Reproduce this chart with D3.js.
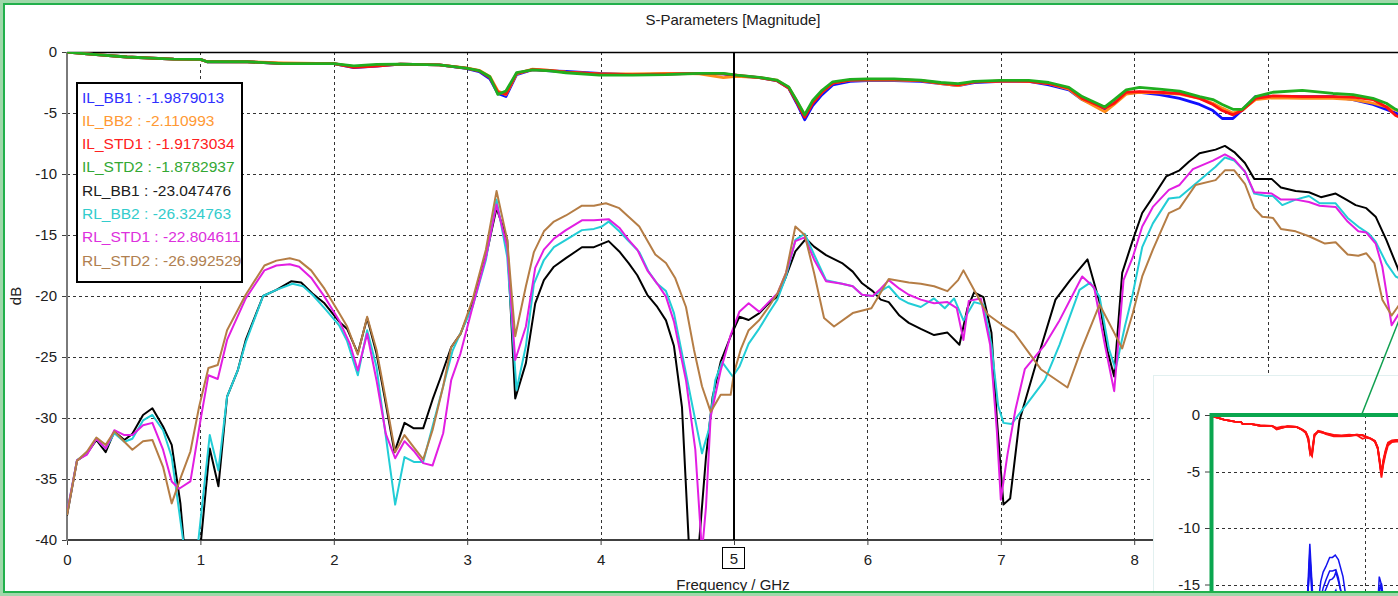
<!DOCTYPE html>
<html>
<head>
<meta charset="utf-8">
<script src="https://cdn.jsdelivr.net/npm/d3@7"></script>
<style>
  body { margin: 0; background: #fff; overflow: hidden; }
  text { font-family: "Liberation Sans", Arial, sans-serif; font-size: 15px; fill: #202020; }
</style>
</head>
<body>
<div id="chart"></div>
<script>
// x / y tick values
const freqTicks = [0, 1, 2, 3, 4, 5, 6, 7, 8];
const dbTicks = [0, -5, -10, -15, -20, -25, -30, -35, -40];
const insetTicks = [0, -5, -10, -15];

// legend text
const seriesNames = ["IL_BB1", "IL_BB2", "IL_STD1", "IL_STD2", "RL_BB1", "RL_BB2", "RL_STD1", "RL_STD2"];
const markerValues = ["-1.9879013", "-2.110993", "-1.9173034", "-1.8782937", "-23.047476", "-26.324763", "-22.804611", "-26.992529"];
const seriesColors = ["#1010ff", "#ff8c1a", "#ff1010", "#1fae1f", "#000000", "#22cdd6", "#e21ee2", "#b57d45"];
const legendColors = ["#3030ff", "#ff9933", "#ff2020", "#33a833", "#202020", "#33cccc", "#dd30dd", "#b08050"];

// insertion loss, shared frequency points (GHz)
const ilFreq = [0, 0.15, 0.45, 0.8, 1.0, 1.05, 1.35, 1.62, 2.0, 2.15, 2.32, 2.5, 2.79, 2.99, 3.09, 3.17, 3.23, 3.29, 3.37, 3.49,
  3.62, 3.74, 3.99, 4.24, 4.49, 4.74, 4.92, 5.02, 5.19, 5.32, 5.41, 5.47, 5.53, 5.59, 5.66, 5.74, 5.87, 6.0, 6.2, 6.4,
  6.55, 6.68, 6.8, 7.0, 7.21, 7.36, 7.51, 7.61, 7.78, 7.85, 7.94, 8.04, 8.19, 8.34, 8.49, 8.59, 8.66, 8.74, 8.81, 8.91,
  9.04, 9.26, 9.49, 9.64, 9.79, 9.89, 9.96, 10.0];
const ilBB1 = [0, -0.16, -0.41, -0.58, -0.6, -0.8, -0.8, -0.96, -0.96, -1.28, -1.15, -1.0, -1.06, -1.35, -1.6, -2.2, -3.4, -3.65, -1.85, -1.45,
  -1.55, -1.6, -1.75, -1.85, -1.8, -1.75, -1.8, -1.95, -2.1, -2.35, -2.95, -4.2, -5.55, -4.4, -3.5, -2.7, -2.4, -2.35, -2.35, -2.4,
  -2.6, -2.75, -2.5, -2.4, -2.4, -2.7, -3.1, -3.9, -4.75, -4.2, -3.4, -3.3, -3.5, -3.8, -4.3, -4.8, -5.45, -5.45, -4.75, -3.65,
  -3.65, -3.65, -3.65, -3.9, -4.3, -4.7, -5.0, -5.2];
const ilBB2 = [0, -0.16, -0.41, -0.58, -0.62, -0.78, -0.8, -0.9, -0.96, -1.2, -1.1, -1.0, -1.06, -1.3, -1.5, -2.0, -3.2, -3.5, -1.8, -1.4,
  -1.5, -1.65, -1.8, -1.8, -1.75, -1.8, -2.1, -2.0, -2.1, -2.3, -2.9, -4.0, -5.2, -4.1, -3.3, -2.55, -2.3, -2.3, -2.3, -2.35,
  -2.6, -2.75, -2.45, -2.38, -2.4, -2.6, -3.05, -3.9, -4.9, -4.3, -3.45, -3.3, -3.35, -3.45, -3.8, -4.2, -4.6, -5.0, -4.75, -3.9,
  -3.75, -3.8, -3.8, -3.9, -4.2, -4.5, -4.75, -4.9];
const ilSTD1 = [0, -0.16, -0.41, -0.58, -0.6, -0.8, -0.8, -0.96, -0.96, -1.25, -1.15, -1.0, -1.06, -1.33, -1.55, -2.1, -3.3, -3.45, -1.75, -1.45,
  -1.5, -1.65, -1.8, -1.85, -1.82, -1.75, -1.8, -1.9, -2.1, -2.35, -2.95, -4.1, -5.35, -4.2, -3.3, -2.55, -2.3, -2.25, -2.25, -2.35,
  -2.55, -2.7, -2.45, -2.38, -2.4, -2.6, -2.97, -3.8, -4.6, -4.2, -3.3, -3.25, -3.3, -3.4, -3.8, -4.3, -4.8, -5.15, -4.8, -3.8,
  -3.6, -3.65, -3.65, -3.7, -3.9, -4.5, -5.2, -5.4];
const ilSTD2 = [0, -0.16, -0.41, -0.58, -0.6, -0.8, -0.8, -0.96, -0.96, -1.13, -1.02, -1.0, -1.06, -1.33, -1.53, -2.03, -3.47, -3.2, -1.7, -1.47,
  -1.55, -1.7, -1.89, -1.89, -1.86, -1.75, -1.75, -1.89, -2.08, -2.3, -2.86, -3.97, -5.14, -3.97, -3.14, -2.44, -2.25, -2.2, -2.2, -2.3,
  -2.5, -2.6, -2.4, -2.33, -2.33, -2.5, -2.9, -3.65, -4.5, -3.9, -3.1, -2.9, -3.05, -3.2, -3.65, -3.9, -4.3, -4.7, -4.7, -3.65,
  -3.3, -3.15, -3.4, -3.5, -3.8, -4.2, -4.7, -4.9];

// return loss, [GHz, dB]
const rlBB1 = [[0,-38],[0.075,-33.5],[0.15,-32.9],[0.22,-31.8],[0.29,-32.8],[0.355,-31.1],[0.43,-31.8],[0.49,-31.3],[0.57,-29.75],[0.64,-29.2],
  [0.72,-30.7],[0.785,-32.2],[0.85,-37],[0.93,-47],[1.005,-40],[1.07,-32.5],[1.135,-35.6],[1.2,-28.25],[1.28,-26.1],[1.34,-23.6],
  [1.47,-20],[1.57,-19.5],[1.68,-18.8],[1.755,-18.9],[1.84,-19.8],[1.93,-20.6],[2.04,-22.1],[2.1,-22.7],[2.18,-24.7],[2.25,-21.8],
  [2.32,-24.7],[2.38,-28.25],[2.455,-32.8],[2.53,-30.4],[2.6,-30.85],[2.67,-30.85],[2.74,-28.5],[2.8,-26.7],[2.88,-24.2],[2.95,-23.1],
  [3.04,-20.6],[3.14,-16.8],[3.22,-12.8],[3.3,-15.4],[3.36,-28.4],[3.44,-25.5],[3.51,-20.6],[3.575,-18.7],[3.65,-17.6],[3.74,-16.9],
  [3.86,-16.0],[3.95,-16.0],[4.06,-15.5],[4.14,-16.35],[4.21,-17.3],[4.275,-18.3],[4.35,-19.9],[4.425,-20.9],[4.49,-22.0],[4.55,-24.1],
  [4.61,-29.1],[4.66,-40],[4.7,-46],[4.74,-40],[4.79,-33.2],[4.84,-28.25],[4.9,-25.4],[4.975,-23.3],[5.04,-21.7],[5.11,-21.97],
  [5.19,-21.4],[5.26,-20.6],[5.325,-20.05],[5.39,-18.4],[5.46,-16.35],[5.54,-15.3],[5.6,-15.95],[5.69,-16.65],[5.81,-17.3],[5.89,-18.0],
  [5.96,-18.96],[6.04,-19.6],[6.1,-20.3],[6.16,-20.5],[6.24,-21.6],[6.31,-22.2],[6.4,-22.7],[6.5,-23.2],[6.6,-23.0],[6.69,-24.0],
  [6.75,-21.0],[6.8,-19.7],[6.87,-20.1],[6.93,-23],[6.97,-30],[7.02,-37.1],[7.07,-36.6],[7.14,-30.2],[7.26,-25.7],[7.41,-20.3],
  [7.52,-18.7],[7.65,-17.0],[7.74,-20.5],[7.8,-24.5],[7.85,-26.6],[7.91,-18.1],[7.99,-15.4],[8.06,-13.2],[8.14,-11.9],[8.24,-10.2],
  [8.34,-9.7],[8.41,-9.0],[8.49,-8.3],[8.61,-8.0],[8.68,-7.7],[8.75,-8.2],[8.83,-9.1],[8.9,-10.4],[9.03,-10.4],[9.1,-11.1],
  [9.21,-11.4],[9.31,-11.5],[9.4,-11.9],[9.51,-11.6],[9.59,-12.1],[9.66,-12.55],[9.74,-12.8],[9.81,-13.5],[9.89,-15.4],[9.975,-17.7],[10,-18.5]];
const rlBB2 = [[0,-37.8],[0.075,-33.45],[0.15,-32.9],[0.22,-31.7],[0.29,-32.5],[0.355,-31.25],[0.43,-31.95],[0.49,-31.7],[0.57,-30.2],[0.64,-29.75],
  [0.72,-31.0],[0.785,-33.2],[0.87,-40],[0.93,-45],[0.985,-40],[1.07,-31.4],[1.135,-34.3],[1.2,-28.25],[1.28,-26.1],[1.34,-23.8],
  [1.47,-20],[1.57,-19.5],[1.69,-19.0],[1.77,-19.2],[1.84,-19.9],[1.93,-21.0],[2.04,-22.4],[2.1,-23.7],[2.18,-26.5],[2.25,-22.8],
  [2.32,-25.8],[2.38,-30.7],[2.46,-37.1],[2.53,-33.2],[2.6,-33.6],[2.67,-33.6],[2.74,-30.7],[2.82,-27.4],[2.89,-24.5],[2.96,-22.8],
  [3.04,-20.9],[3.14,-17.05],[3.22,-12.1],[3.3,-16.8],[3.37,-27.7],[3.44,-24.1],[3.5,-19.0],[3.575,-17.05],[3.65,-16.0],[3.74,-15.4],
  [3.86,-14.6],[3.95,-14.5],[4.01,-14.3],[4.06,-13.9],[4.14,-14.7],[4.21,-15.5],[4.29,-16.4],[4.36,-18.0],[4.425,-19.0],[4.49,-19.6],
  [4.55,-21.4],[4.63,-25.8],[4.69,-29.1],[4.76,-32.9],[4.81,-31.0],[4.86,-26.9],[4.91,-25.4],[4.99,-26.6],[5.04,-25.8],[5.11,-23.9],
  [5.19,-22.65],[5.26,-21.4],[5.325,-20.3],[5.39,-18.4],[5.46,-15.4],[5.53,-14.9],[5.6,-16.6],[5.69,-18.7],[5.81,-19.0],[5.89,-19.2],
  [5.96,-19.9],[6.04,-20.0],[6.1,-19.6],[6.16,-19.2],[6.24,-20.2],[6.31,-20.6],[6.4,-20.9],[6.5,-20.2],[6.58,-21.0],[6.65,-20.2],
  [6.72,-22.0],[6.8,-20.5],[6.87,-20.7],[6.93,-24],[6.98,-29],[7.02,-30.4],[7.08,-30.5],[7.22,-28.5],[7.33,-26.9],[7.44,-24],
  [7.59,-19.5],[7.67,-18.9],[7.74,-20.05],[7.81,-24.3],[7.86,-26.0],[7.93,-22.5],[7.99,-19.8],[8.06,-16.0],[8.14,-14.05],[8.26,-12.0],
  [8.34,-11.9],[8.46,-10.8],[8.61,-9.4],[8.68,-8.65],[8.75,-8.9],[8.83,-9.8],[8.9,-11.6],[8.99,-11.8],[9.04,-11.8],[9.11,-12.55],
  [9.21,-12.1],[9.31,-11.8],[9.39,-12.4],[9.51,-12.4],[9.6,-13.6],[9.69,-14.4],[9.76,-14.9],[9.81,-15.55],[9.89,-17.3],[9.96,-18.4],[10,-18.6]];
const rlSTD1 = [[0,-37.8],[0.075,-33.45],[0.15,-33.0],[0.22,-31.7],[0.29,-32.5],[0.355,-31.0],[0.43,-31.4],[0.49,-31.4],[0.57,-30.6],[0.64,-30.4],
  [0.72,-32.6],[0.785,-35.2],[0.84,-35.8],[0.925,-35.2],[1.005,-29.9],[1.06,-26.5],[1.13,-26.8],[1.2,-23.6],[1.34,-20.2],[1.48,-17.9],
  [1.57,-17.5],[1.67,-17.4],[1.74,-17.6],[1.83,-18.5],[1.93,-20.05],[2.04,-22.0],[2.12,-23.9],[2.18,-26.1],[2.25,-23.1],[2.32,-26.9],
  [2.39,-31.3],[2.46,-33.3],[2.53,-31.9],[2.6,-32.7],[2.67,-33.7],[2.74,-33.9],[2.82,-31.25],[2.88,-26.9],[2.95,-24.7],[3.04,-20.9],
  [3.14,-16.8],[3.22,-12.5],[3.3,-16.0],[3.36,-25.25],[3.44,-22.5],[3.51,-17.7],[3.575,-16.2],[3.65,-15.3],[3.74,-14.6],[3.86,-13.8],
  [3.95,-13.8],[4.06,-13.7],[4.14,-14.4],[4.21,-15.4],[4.275,-16.2],[4.35,-17.9],[4.425,-19.0],[4.49,-20.05],[4.55,-22.1],[4.64,-26.9],
  [4.71,-32.6],[4.76,-41],[4.79,-37.3],[4.825,-29.9],[4.9,-26.1],[4.975,-23.2],[5.04,-21.3],[5.11,-20.6],[5.19,-21.3],[5.26,-20.5],
  [5.325,-19.8],[5.39,-18.1],[5.46,-15.5],[5.53,-15.2],[5.6,-17.0],[5.69,-18.8],[5.81,-19.0],[5.89,-19.2],[5.96,-19.9],[6.04,-20.0],
  [6.1,-19.4],[6.16,-18.7],[6.24,-19.4],[6.31,-19.9],[6.4,-20.3],[6.5,-20.6],[6.6,-20.5],[6.67,-21.0],[6.72,-23.6],[6.76,-20.4],
  [6.85,-20.2],[6.92,-24],[6.97,-31],[7.0,-36.7],[7.05,-33],[7.11,-29.3],[7.18,-26],[7.33,-24],[7.44,-22],[7.61,-18.4],
  [7.7,-19.3],[7.78,-24],[7.85,-27.8],[7.92,-18.7],[7.99,-16.8],[8.06,-14.3],[8.14,-12.7],[8.26,-11.3],[8.34,-10.9],[8.44,-9.6],
  [8.59,-8.9],[8.68,-8.4],[8.75,-8.8],[8.83,-9.8],[8.9,-11.5],[9.03,-11.6],[9.1,-12.1],[9.21,-12.1],[9.31,-12.3],[9.39,-12.6],
  [9.51,-12.7],[9.6,-13.9],[9.68,-14.7],[9.74,-14.8],[9.81,-15.7],[9.86,-17.6],[9.93,-22.4],[9.975,-21.6],[10,-21.2]];
const rlSTD2 = [[0,-37.95],[0.075,-33.5],[0.15,-32.75],[0.22,-31.6],[0.29,-32.2],[0.355,-31.1],[0.43,-31.95],[0.49,-32.6],[0.57,-31.9],[0.64,-31.8],
  [0.72,-34.0],[0.785,-37.0],[0.855,-34.8],[0.925,-32.75],[0.99,-29.1],[1.06,-25.9],[1.13,-25.65],[1.2,-22.8],[1.34,-19.9],[1.48,-17.5],
  [1.57,-17.1],[1.67,-16.9],[1.74,-17.1],[1.83,-17.9],[1.93,-19.4],[2.04,-21.4],[2.1,-22.5],[2.18,-24.8],[2.25,-21.7],[2.32,-24.4],
  [2.39,-28.5],[2.46,-32.8],[2.53,-31.4],[2.6,-32.4],[2.67,-33.4],[2.74,-31.0],[2.82,-27.4],[2.88,-24.2],[2.95,-23.1],[3.04,-20.3],
  [3.14,-16.2],[3.22,-11.4],[3.3,-15.4],[3.36,-23.3],[3.44,-19.2],[3.5,-16.4],[3.575,-14.7],[3.65,-13.9],[3.74,-13.4],[3.86,-12.6],
  [3.95,-12.6],[4.04,-12.4],[4.14,-12.8],[4.21,-13.5],[4.29,-14.3],[4.41,-16.6],[4.49,-17.3],[4.56,-18.55],[4.64,-20.9],[4.7,-24.4],
  [4.76,-27.4],[4.825,-29.5],[4.9,-28.1],[4.975,-28.1],[5.0,-26.3],[5.05,-24.4],[5.11,-22.8],[5.19,-21.97],[5.26,-20.9],[5.325,-19.8],
  [5.39,-18.1],[5.46,-14.3],[5.53,-15.0],[5.6,-18.1],[5.675,-21.8],[5.75,-22.5],[5.89,-21.4],[6.03,-21.0],[6.16,-18.6],[6.31,-18.9],
  [6.4,-19.0],[6.5,-19.2],[6.6,-19.6],[6.68,-18.7],[6.72,-17.9],[6.8,-19.5],[6.9,-21.5],[7.0,-22.3],[7.1,-23.0],[7.2,-24.5],
  [7.3,-26],[7.5,-27.5],[7.6,-24.5],[7.74,-20.7],[7.84,-22.8],[7.91,-24.3],[7.99,-21.4],[8.06,-18.4],[8.14,-16.2],[8.26,-13.2],
  [8.34,-12.8],[8.46,-10.9],[8.61,-10.5],[8.68,-9.7],[8.75,-9.7],[8.83,-10.8],[8.9,-12.8],[8.96,-13.5],[9.04,-13.6],[9.1,-14.5],
  [9.21,-14.7],[9.31,-15.1],[9.43,-15.7],[9.51,-15.6],[9.6,-16.6],[9.68,-16.7],[9.74,-16.5],[9.8,-17.3],[9.86,-20.3],[9.93,-21.6],[9.975,-20.9],[10,-20.5]];

const markerFreq = 5;

// build series
const ilSeries = [ilBB1, ilBB2, ilSTD1, ilSTD2].map(v => ilFreq.map((f, i) => [f, v[i]]));
const rlSeries = [rlBB1, rlBB2, rlSTD1, rlSTD2];
const allSeries = ilSeries.concat(rlSeries);

const width = 1398, height = 596;
const svg = d3.select("#chart").append("svg")
    .attr("width", width)
    .attr("height", height);

// main scales
const x = d3.scaleLinear().domain([0, 10]).range([67, 1401]);
const y = d3.scaleLinear().domain([-40, 0]).range([540, 52]);

svg.append("defs").append("clipPath").attr("id", "plotClip")
    .append("rect").attr("x", 67).attr("y", 52).attr("width", 1334).attr("height", 488);

// grid
const grid = svg.append("g").attr("stroke", "#333").attr("stroke-width", 1).attr("stroke-dasharray", "3,3");
grid.selectAll(".vg").data(d3.range(1, 10)).enter().append("line")
    .attr("x1", d => Math.round(x(d)) + 0.5).attr("x2", d => Math.round(x(d)) + 0.5)
    .attr("y1", y(0)).attr("y2", y(-40));
grid.selectAll(".hg").data(dbTicks.filter(d => d < 0 && d > -40)).enter().append("line")
    .attr("x1", x(0)).attr("x2", 1401)
    .attr("y1", d => Math.round(y(d)) + 0.5).attr("y2", d => Math.round(y(d)) + 0.5);

// axes
const yAxis = svg.append("g").attr("transform", "translate(67,0)")
    .call(d3.axisLeft(y).tickValues(dbTicks).tickSize(5).tickPadding(5).tickFormat(d => String(d)));
const xAxis = svg.append("g").attr("transform", "translate(0,540)")
    .call(d3.axisBottom(x).tickValues(freqTicks).tickSize(5).tickPadding(9)
        .tickFormat(d => d === markerFreq ? "" : String(d)));
[yAxis, xAxis].forEach(a => {
    a.select(".domain").remove();
    a.selectAll("line").attr("stroke", "#404040");
    a.selectAll("text").style("font-size", "15px").attr("fill", "#202020");
});

svg.append("line").attr("x1", 67).attr("x2", 1401).attr("y1", 52.5).attr("y2", 52.5)
    .attr("stroke", "#000").attr("stroke-width", 1.5);
svg.append("line").attr("x1", 67).attr("x2", 1401).attr("y1", 540).attr("y2", 540)
    .attr("stroke", "#404040").attr("stroke-width", 2);
svg.append("line").attr("x1", 67).attr("x2", 67).attr("y1", 52).attr("y2", 541)
    .attr("stroke", "#7a7a7a").attr("stroke-width", 2);

// curves
const line = d3.line().x(d => x(d[0])).y(d => y(d[1]));
const curves = svg.append("g").attr("clip-path", "url(#plotClip)");
curves.selectAll("path").data(allSeries).enter().append("path")
    .attr("d", line)
    .attr("fill", "none")
    .attr("stroke", (d, i) => seriesColors[i])
    .attr("stroke-width", (d, i) => i < 4 ? 2.8 : 2)
    .attr("stroke-linejoin", "round");

// marker at 5 GHz
svg.append("line").attr("x1", x(markerFreq)).attr("x2", x(markerFreq)).attr("y1", 52).attr("y2", 540)
    .attr("stroke", "#000").attr("stroke-width", 2);
svg.append("rect").attr("x", x(markerFreq) - 11.5).attr("y", 547.5).attr("width", 22).attr("height", 21)
    .attr("fill", "#fff").attr("stroke", "#000").attr("stroke-width", 1);
svg.append("text").attr("x", x(markerFreq)).attr("y", 564).attr("text-anchor", "middle").text(markerFreq);

// legend
const legend = svg.append("g");
legend.append("rect").attr("x", 77).attr("y", 83).attr("width", 165).attr("height", 199)
    .attr("fill", "#fff").attr("stroke", "#000").attr("stroke-width", 2);
legend.selectAll("text").data(seriesNames).enter().append("text")
    .attr("x", 82)
    .attr("y", (d, i) => 102.5 + i * 23.3)
    .style("fill", (d, i) => legendColors[i])
    .style("font-size", "15.5px")
    .text((d, i) => d + " : " + markerValues[i]);

// titles
svg.append("text").attr("x", 733).attr("y", 25).attr("text-anchor", "middle").text("S-Parameters [Magnitude]");
svg.append("text").attr("x", 733).attr("y", 590).attr("text-anchor", "middle").text("Frequency / GHz");
svg.append("text").attr("transform", "translate(21,296) rotate(-90)").attr("text-anchor", "middle").text("dB");

// inset overview
const ix = d3.scaleLinear().domain([0, 10]).range([1210, 1520]);
const iy = d3.scaleLinear().domain([-20, 0]).range([641, 415]);
const inset = svg.append("g");
inset.append("rect").attr("x", 1153.5).attr("y", 375.5).attr("width", 300).attr("height", 260)
    .attr("fill", "#fff").attr("stroke", "#e2f0f0").attr("stroke-width", 1);
svg.append("defs").append("clipPath").attr("id", "insetClip")
    .append("rect").attr("x", 1213).attr("y", 417).attr("width", 200).attr("height", 200);
const ig = inset.append("g").attr("stroke", "#333").attr("stroke-width", 1).attr("stroke-dasharray", "3,3");
ig.selectAll(".h").data(insetTicks.filter(d => d < 0)).enter().append("line")
    .attr("x1", 1210).attr("x2", 1400)
    .attr("y1", d => Math.round(iy(d)) + 0.5).attr("y2", d => Math.round(iy(d)) + 0.5);
ig.append("line").attr("x1", Math.round(ix(5)) + 0.5).attr("x2", Math.round(ix(5)) + 0.5).attr("y1", 415).attr("y2", 600);
const iAxis = inset.append("g").attr("transform", "translate(1210,0)")
    .call(d3.axisLeft(iy).tickValues(insetTicks).tickSize(5).tickPadding(5).tickFormat(d => String(d)));
iAxis.select(".domain").remove();
iAxis.selectAll("line").attr("stroke", "#404040");
iAxis.selectAll("text").style("font-size", "15px").attr("fill", "#202020");
const iline = d3.line().x(d => ix(d[0])).y(d => iy(d[1]));
const ic = inset.append("g").attr("clip-path", "url(#insetClip)");
ic.selectAll(".rl").data(rlSeries).enter().append("path")
    .attr("d", iline).attr("fill", "none").attr("stroke", "#1414f0").attr("stroke-width", 1.5);
ic.selectAll(".il").data(ilSeries).enter().append("path")
    .attr("d", iline).attr("fill", "none").attr("stroke", "#ff1010").attr("stroke-width", 1.8);
inset.append("line").attr("x1", 1211.5).attr("x2", 1211.5).attr("y1", 413).attr("y2", 600)
    .attr("stroke", "#0aa64f").attr("stroke-width", 4);
inset.append("line").attr("x1", 1210).attr("x2", 1400).attr("y1", 415).attr("y2", 415)
    .attr("stroke", "#0aa64f").attr("stroke-width", 4);
inset.append("line").attr("x1", 1361.5).attr("y1", 415).attr("x2", 1405).attr("y2", 305)
    .attr("stroke", "#10a050").attr("stroke-width", 1.5);

// outer frame
svg.append("rect").attr("x", 1.5).attr("y", 1.5).attr("width", 1430).attr("height", 593)
    .attr("fill", "none").attr("stroke", "#9fd8aa").attr("stroke-width", 3);
svg.append("rect").attr("x", 4).attr("y", 4).attr("width", 1430).attr("height", 588)
    .attr("fill", "none").attr("stroke", "#22b04c").attr("stroke-width", 2);
</script>
</body>
</html>
